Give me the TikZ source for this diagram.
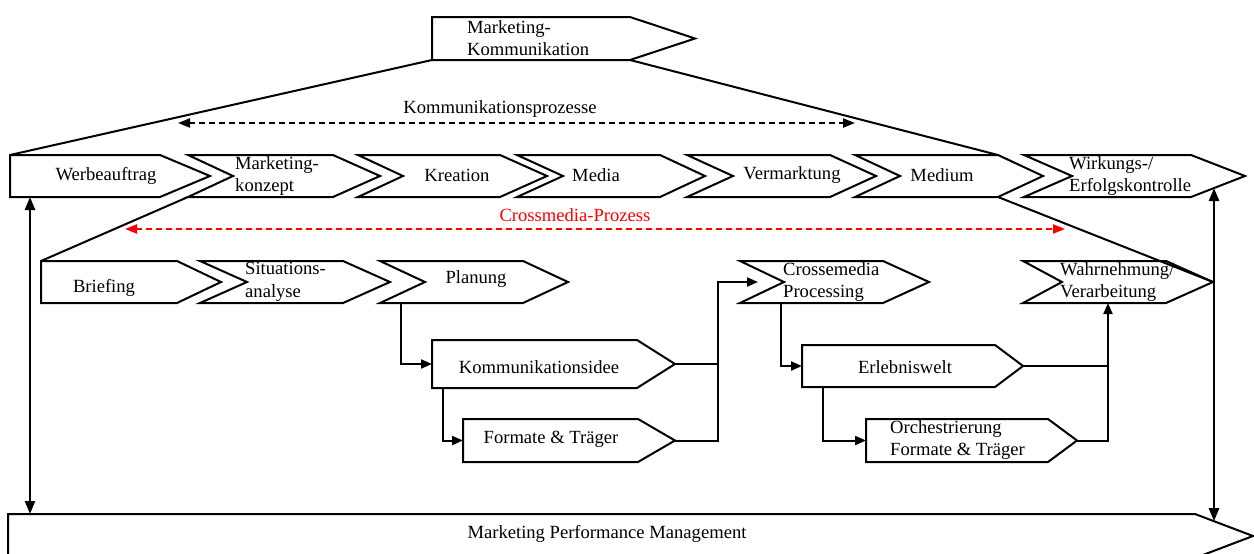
\documentclass[tikz,border=0pt]{standalone}
\usepackage{fontspec}
\setmainfont{Liberation Serif}
\usetikzlibrary{arrows.meta,calc}

\tikzset{
  outline/.style={draw=black, line width=2pt, line join=miter},
  lbl/.style={inner sep=0pt, font=\fontsize{18.6}{22.5}\selectfont, text=black},
  conn/.style={draw=black, line width=2pt},
  arr/.style={conn, -{Triangle[length=11pt,width=9pt]}},
  dbl/.style={draw=black, line width=2.6pt,
    {Triangle[length=13pt,width=10pt]}-{Triangle[length=13pt,width=10pt]}},
  process/.style={line width=2.2pt, dash pattern=on 6pt off 4pt,
    {Triangle[length=12pt,width=9pt]}-{Triangle[length=12pt,width=9pt]}},
}

% chevron box: name, left x, top y, width, height, tip depth, notch depth
\newcommand\chevron[7]{%
  \node[inner sep=0pt, outer sep=0pt, minimum width=#4pt, minimum height=#5pt,
        anchor=north west] (#1) at (#2,#3) {};
  \coordinate (#1-tip) at ($(#1.east)+(#6,0)$);
  \coordinate (#1-notch) at ($(#1.west)+(#7,0)$);
  \draw[outline] (#1.north west) -- (#1.north east) -- (#1-tip) --
    (#1.south east) -- (#1.south west) -- (#1-notch) -- cycle;
}

\begin{document}
\begin{tikzpicture}[x=1pt, y=-1pt]
\useasboundingbox (0,0) rectangle (1254,554);

% top level
\chevron{mk}{432}{17}{198}{43}{65}{0}
\node[lbl, anchor=west, align=left] (mk-t) at (467,38) {Marketing-\\Kommunikation};

% process row
\chevron{werb}{10}{155}{150}{42}{50}{0}
\chevron{konz}{188}{155}{145}{42}{47}{45}
\chevron{krea}{358}{155}{142}{42}{47}{45}
\chevron{media}{517}{155}{143}{42}{45}{46}
\chevron{verm}{687}{155}{143}{42}{46}{46}
\chevron{medium}{855}{155}{143}{42}{45}{45}
\chevron{wirk}{1024}{155}{167}{42}{54}{48}

\node[lbl] (werb-t) at (106,176) {Werbeauftrag};
\node[lbl, anchor=west, align=left] (konz-t) at (235,176) {Marketing-\\konzept};
\node[lbl] (krea-t) at (457,175) {Kreation};
\node[lbl] (media-t) at (596,175) {Media};
\node[lbl] (verm-t) at (792,175) {Vermarktung};
\node[lbl] (medium-t) at (942,175) {Medium};
\node[lbl, anchor=west, align=left] (wirk-t) at (1069,176) {Wirkungs-/\\Erfolgskontrolle};

% crossmedia row
\chevron{brief}{41}{261}{136}{42}{44}{0}
\chevron{situ}{200}{261}{143}{42}{47}{47}
\chevron{plan}{380}{261}{143}{42}{45}{45}
\chevron{cross}{740}{261}{143}{42}{46}{44}
\chevron{wahr}{1023}{261}{143}{42}{47}{39}

\node[lbl] (brief-t) at (104,288) {Briefing};
\node[lbl, anchor=west, align=left] (situ-t) at (245,282) {Situations-\\analyse};
\node[lbl] (plan-t) at (476,279) {Planung};
\node[lbl, anchor=west, align=left] (cross-t) at (783,282) {Crossemedia\\Processing};
\node[lbl, anchor=west, align=left] (wahr-t) at (1060,282) {Wahrnehmung/\\Verarbeitung};

% detail boxes
\chevron{kidee}{432}{340}{205}{48}{38}{0}
\chevron{form}{463}{419}{175}{43}{37}{0}
\chevron{erleb}{802}{345}{193}{42}{28}{0}
\chevron{orch}{866}{419}{182}{43}{29}{0}

\node[lbl] (kidee-t) at (539,367) {Kommunikationsidee};
\node[lbl] (form-t) at (551,439) {Formate \& Träger};
\node[lbl] (erleb-t) at (905,367) {Erlebniswelt};
\node[lbl, anchor=west, align=left] (orch-t) at (890,440) {Orchestrierung\\Formate \& Träger};

% management bar
\chevron{bar}{8}{514}{1187}{44}{58}{0}
\node[lbl] (bar-t) at (607,534) {Marketing Performance Management};

% funnel lines
\draw[conn] (mk.south west) -- (werb.north west);
\draw[conn] (mk.south east) -- (medium.north east);
\draw[conn] (brief.north west) -- (konz.south west);
\draw[conn] (medium.south east) -- (wahr-tip);

% process spans
\coordinate (kp-l) at (178,123);
\coordinate (kp-r) at (855,123);
\draw[process, draw=black] (kp-l) -- (kp-r);
\node[lbl] (kp-t) at (500,109) {Kommunikationsprozesse};

\coordinate (cp-l) at (125,229);
\coordinate (cp-r) at (1065,229);
\draw[process, draw=red, fill=red] (cp-l) -- (cp-r);
\node[lbl, text=red] (cp-t) at (575,215) {Crossmedia-Prozess};

% links to the management bar
\coordinate (lt) at ($(werb.south west)+(20,0)$);
\draw[dbl] (lt) -- (lt |- bar.north);
\coordinate (rt) at ($(wirk.south east)!0.426!(wirk-tip)$);
\coordinate (rb) at ($(bar.north east)!0.328!(bar-tip)$);
\draw[dbl] (rt) -- (rt |- rb);

% planning branch
\draw[arr] ($(plan.south west)+(21,0)$) |- (kidee.west);
\draw[arr] ($(kidee.south west)+(11,0)$) |- (form.west);
\coordinate (j1) at ($(cross.west)+(-22,0)$);
\draw[conn] (kidee-tip) -- (kidee-tip -| j1);
\draw[arr] (form-tip) -| (j1) -- ($(cross.west)+(18,0)$);

% processing branch
\draw[arr] ($(cross.south west)+(41,0)$) |- (erleb.west);
\draw[arr] ($(erleb.south west)+(21,0)$) |- (orch.west);
\coordinate (j2) at ($(wahr.south west)+(85,0)$);
\draw[conn] (erleb-tip) -- (erleb-tip -| j2);
\draw[arr] (orch-tip) -| (j2);
\end{tikzpicture}
\end{document}
